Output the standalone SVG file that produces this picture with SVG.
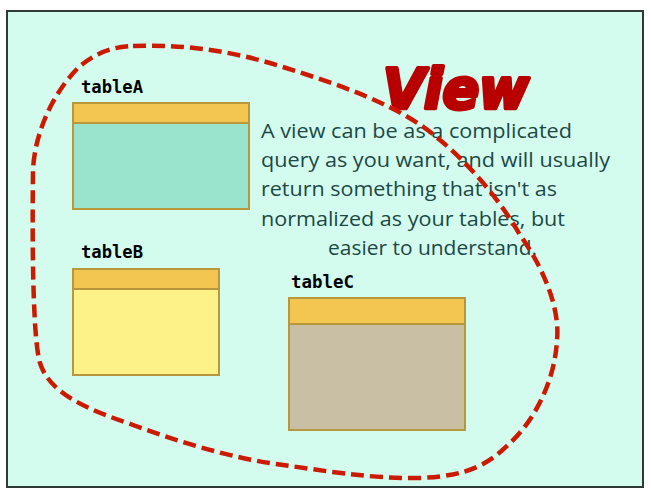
<svg xmlns="http://www.w3.org/2000/svg" width="651" height="494" viewBox="0 0 651 494">
<style>
.lbl{font-family:"DejaVu Sans Mono","Liberation Mono",monospace;font-weight:bold;font-size:17px;fill:#000}
.hdr{fill:#f3c651;stroke:#b8983c;stroke-width:2}
.box{stroke:#b8983c;stroke-width:2}
.txt{font-family:"Open Sans","Liberation Sans",sans-serif;font-size:20.5px;fill:#1b4846}
</style>
<rect x="0" y="0" width="651" height="494" fill="#ffffff"/>
<rect x="7" y="11" width="636" height="476" fill="#d4fcee" stroke="#2f3a38" stroke-width="2"/>
<g id="tableA">
<text class="lbl" x="81" y="93" textLength="62" lengthAdjust="spacingAndGlyphs">tableA</text>
<rect class="box" x="73" y="103" width="176" height="106" fill="#9ae3cc"/>
<rect class="hdr" x="73" y="103" width="176" height="20"/>
</g>
<g id="tableB">
<text class="lbl" x="81" y="258" textLength="62" lengthAdjust="spacingAndGlyphs">tableB</text>
<rect class="box" x="73" y="269" width="146" height="106" fill="#fdf287"/>
<rect class="hdr" x="73" y="269" width="146" height="20"/>
</g>
<g id="tableC">
<text class="lbl" x="291" y="288" textLength="63" lengthAdjust="spacingAndGlyphs">tableC</text>
<rect class="box" x="289" y="298" width="176" height="132" fill="#c8bfa4"/>
<rect class="hdr" x="289" y="298" width="176" height="26"/>
</g>
<g id="title">
<text x="383" y="108" font-family="DejaVu Sans" font-weight="bold" font-style="italic" font-size="56" fill="#b80000" stroke="#b80000" stroke-width="4" stroke-linejoin="round" textLength="146" lengthAdjust="spacingAndGlyphs">View</text>
</g>
<g id="description">
<text class="txt" x="261" y="138" textLength="311" lengthAdjust="spacingAndGlyphs">A view can be as a complicated</text>
<text class="txt" x="261" y="167" textLength="349" lengthAdjust="spacingAndGlyphs">query as you want, and will usually</text>
<text class="txt" x="261" y="196" textLength="296" lengthAdjust="spacingAndGlyphs">return something that isn't as</text>
<text class="txt" x="261" y="226" textLength="304" lengthAdjust="spacingAndGlyphs">normalized as your tables, but</text>
<text class="txt" x="328" y="255" textLength="209" lengthAdjust="spacingAndGlyphs">easier to understand.</text>
</g>
<g id="connectors">
<path d="M133,46 C180,44 230,50 283,67 C340,85 400,105 440,140 C470,165 500,200 520,235 C545,270 560,310 557,340 C555,380 535,420 510,443 C490,463 470,476 420,478 C370,479 320,470 283,465 C230,458 180,442 133,425 C90,410 50,395 40,363 C33,340 32,250 33,170 C35,130 55,90 80,66 C100,50 115,47 133,46 Z" fill="none" stroke="#cc1a00" stroke-width="4.5" stroke-dasharray="13 6"/>
</g>
</svg>
